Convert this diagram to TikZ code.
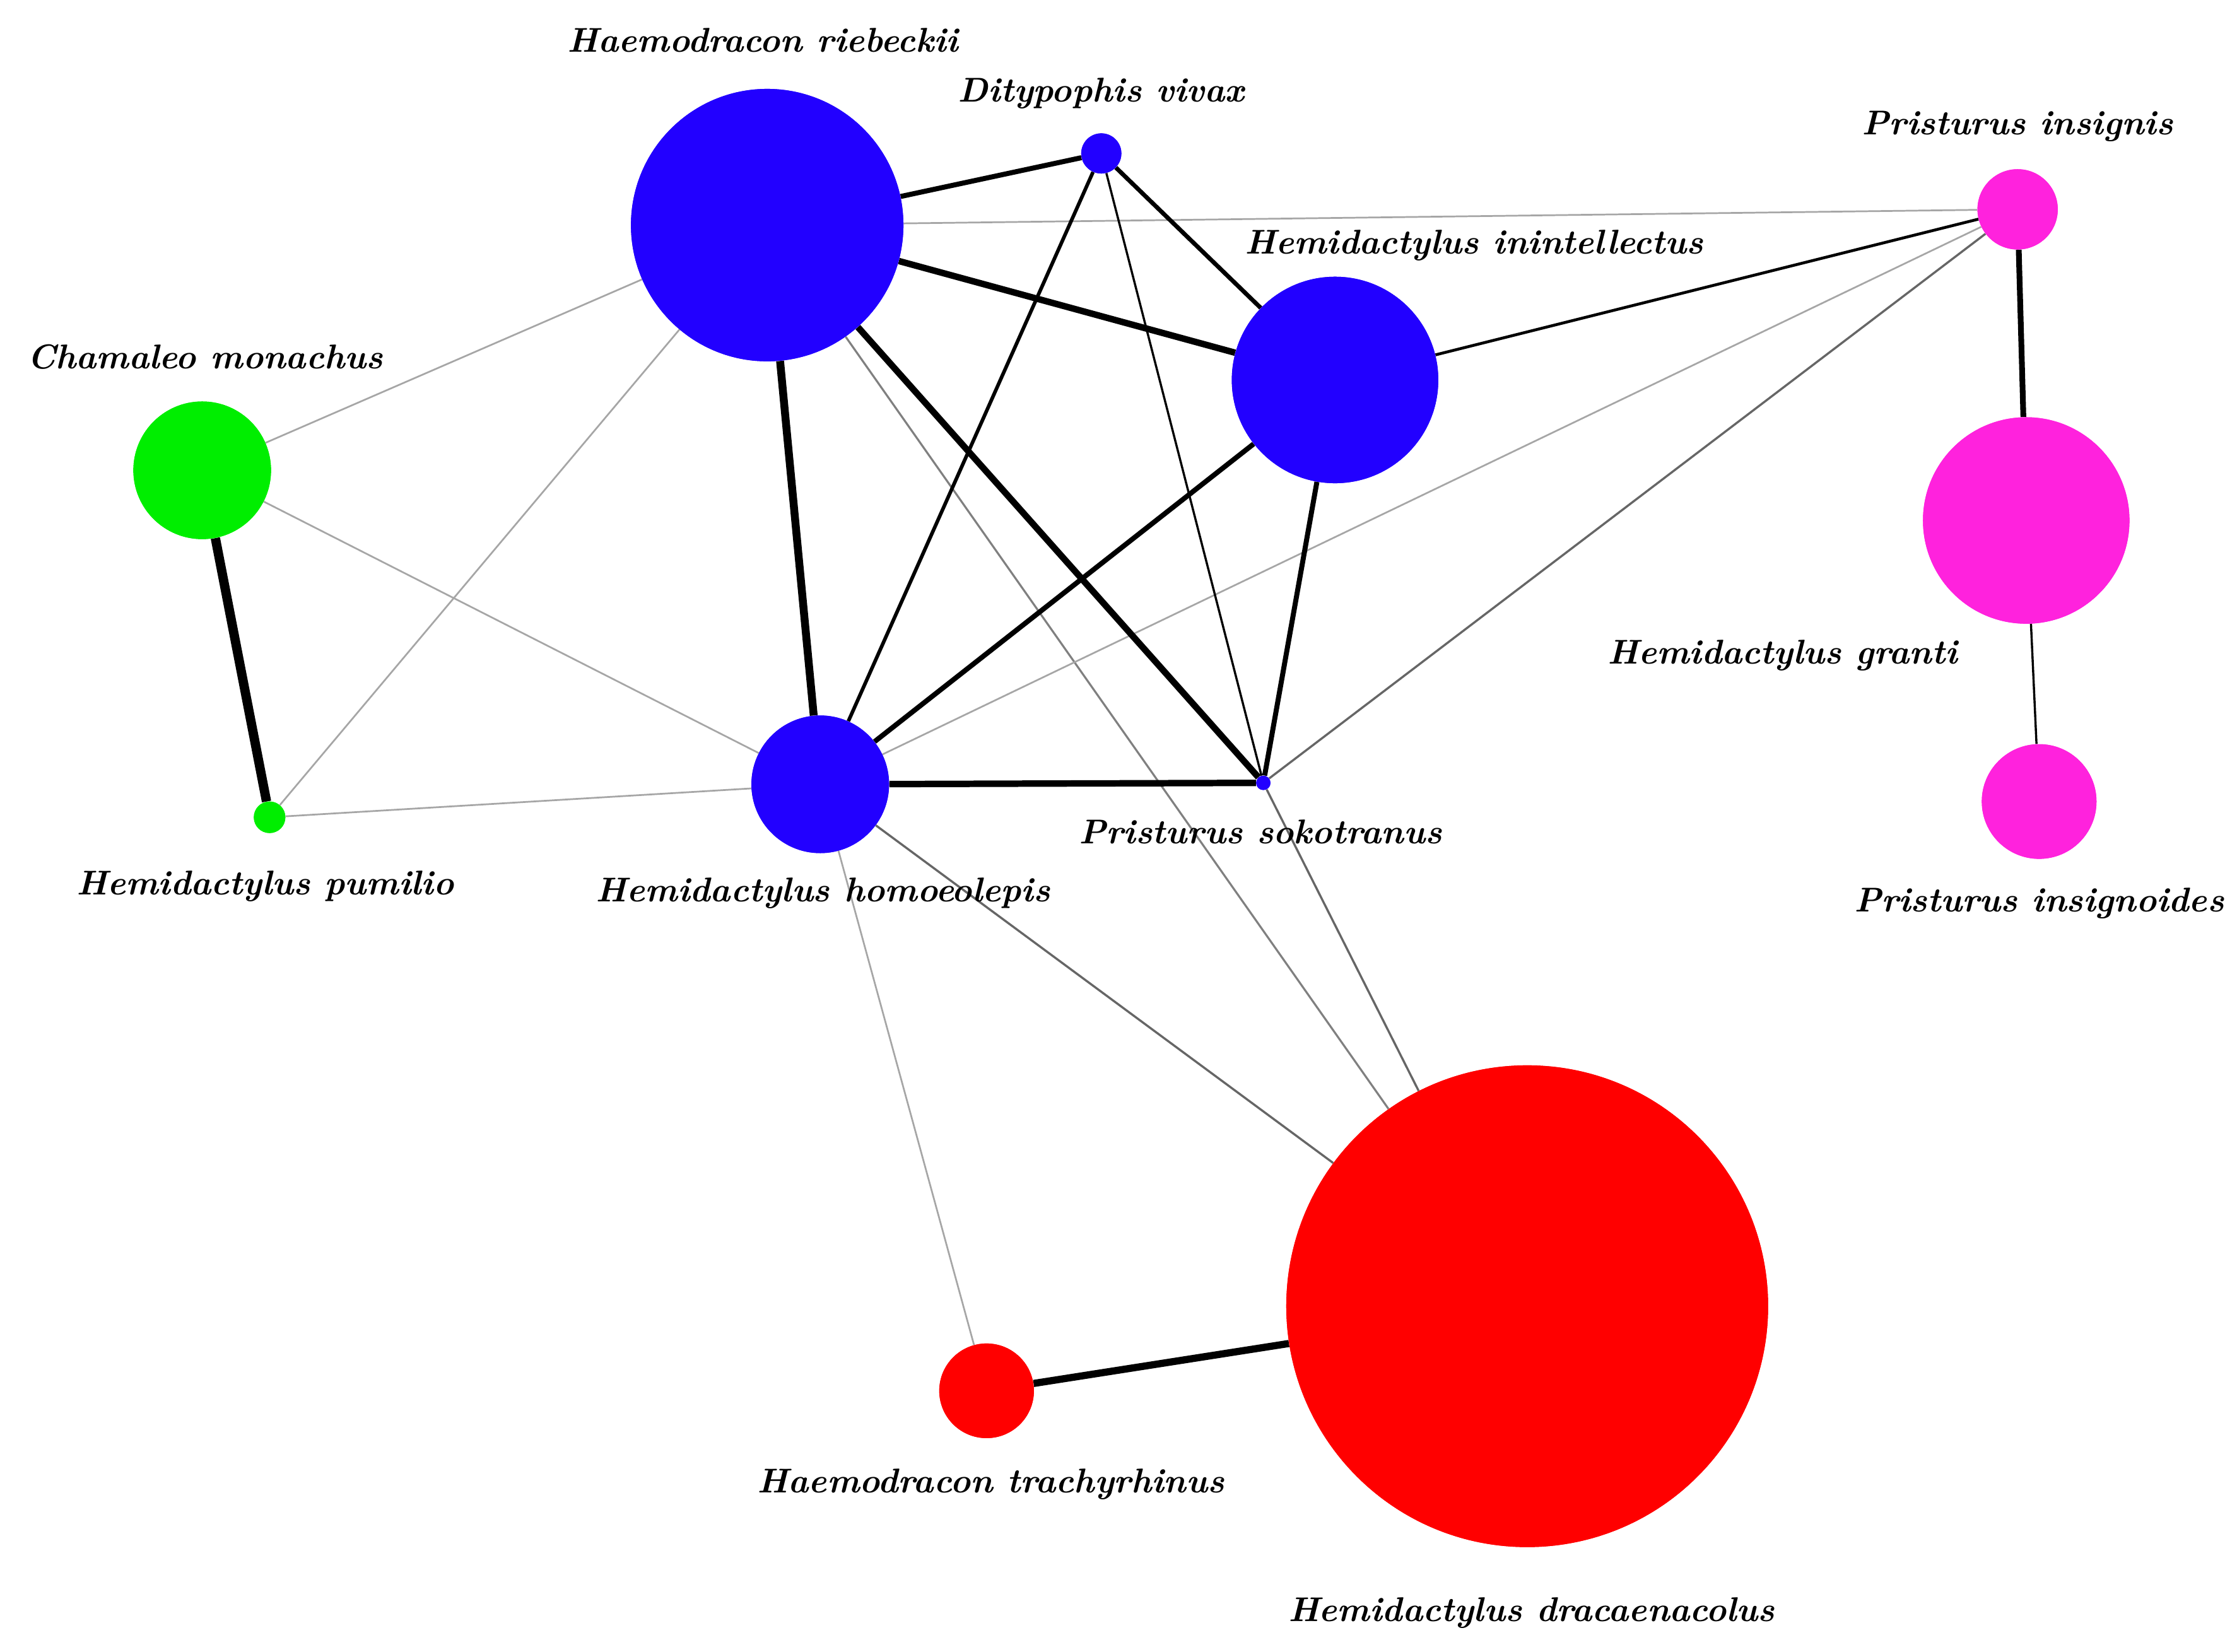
\documentclass[tikz,border=0pt]{standalone}
\begin{document}
\begin{tikzpicture}[x=1pt,y=-1pt,
 nd/.style={circle,draw=none,inner sep=0pt,minimum size=#1},
 lb/.style={font=\fontsize{24}{28}\selectfont\bfseries\itshape},
 e/.style={line width=#1,black},
 g/.style={line width=#1,gray!70}]
\useasboundingbox (0,0) rectangle (1560,1152);
\definecolor{bl}{HTML}{2200FF}\definecolor{gr}{HTML}{00EE00}
\definecolor{mg}{HTML}{FF22DD}\definecolor{rd}{HTML}{FF0000}
\path
 (535,157) node[nd=190,fill=bl] (HR) {}
 (768,107) node[nd=28,fill=bl] (DV) {}
 (931,265) node[nd=144,fill=bl] (HI) {}
 (1407,146) node[nd=56,fill=mg] (PI) {}
 (1413,363) node[nd=144,fill=mg] (HG) {}
 (1422,559) node[nd=80,fill=mg] (PN) {}
 (141,328) node[nd=96,fill=gr] (CM) {}
 (188,570) node[nd=22,fill=gr] (HP) {}
 (572,547) node[nd=96,fill=bl] (HH) {}
 (881,546) node[nd=10,fill=bl] (PS) {}
 (1065,911) node[nd=336,fill=rd] (HD) {}
 (688,970) node[nd=66,fill=rd] (HT) {};
\begin{scope}[on background layer/.try]
\end{scope}
\begin{pgfinterruptboundingbox}\end{pgfinterruptboundingbox}
% edges drawn first via behind path
\begin{scope}
\draw[g=1.2,behind path] (HR) -- (PI);
\draw[g=1.2] (HR) -- (CM);
\draw[g=1.2] (HR) -- (HP);
\draw[g=1.4,gray] (HR) -- (HD);
\draw[g=1.2] (CM) -- (HH);
\draw[g=1.2] (HP) -- (HH);
\draw[g=1.2] (HH) -- (HT);
\draw[g=1.2] (PI) -- (HH);
\draw[line width=1.5,gray!80!black] (PI) -- (PS);
\draw[line width=1.5,gray!80!black] (HH) -- (HD);
\draw[line width=1.5,gray!80!black] (PS) -- (HD);
\draw[e=3.5] (HR) -- (DV);
\draw[e=4.5] (HR) -- (HI);
\draw[e=5.5] (HR) -- (HH);
\draw[e=4.5] (HR) -- (PS);
\draw[e=3] (DV) -- (HI);
\draw[e=2.5] (DV) -- (HH);
\draw[e=1.5] (DV) -- (PS);
\draw[e=2] (HI) -- (PI);
\draw[e=3.5] (HI) -- (HH);
\draw[e=3.5] (HI) -- (PS);
\draw[e=4] (PI) -- (HG);
\draw[e=1.5] (HG) -- (PN);
\draw[e=6.5] (CM) -- (HP);
\draw[e=4.5] (HH) -- (PS);
\draw[e=5] (HT) -- (HD);
\end{scope}
% redraw nodes on top
\foreach \c/\p/\s in {bl/HR/190,bl/DV/28,bl/HI/144,mg/PI/56,mg/HG/144,mg/PN/80,gr/CM/96,gr/HP/22,bl/HH/96,bl/PS/10,rd/HD/336,rd/HT/66}
 \fill[\c] (\p.center) circle (\s/2);
\node[lb] at (532,28) {Haemodracon riebeckii};
\node[lb] at (768,65) {Ditypophis vivax};
\node[lb] at (1028,171) {Hemidactylus inintellectus};
\node[lb] at (1407,88) {Pristurus insignis};
\node[lb] at (143,249) {Chamaleo monachus};
\node[lb] at (1243,457) {Hemidactylus granti};
\node[lb] at (1422,630) {Pristurus insignoides};
\node[lb] at (185,618) {Hemidactylus pumilio};
\node[lb] at (574,623) {Hemidactylus homoeolepis};
\node[lb] at (879,580) {Pristurus sokotranus};
\node[lb] at (691,1035) {Haemodracon trachyrhinus};
\node[lb] at (1068,1125) {Hemidactylus dracaenacolus};
\end{tikzpicture}
\end{document}
